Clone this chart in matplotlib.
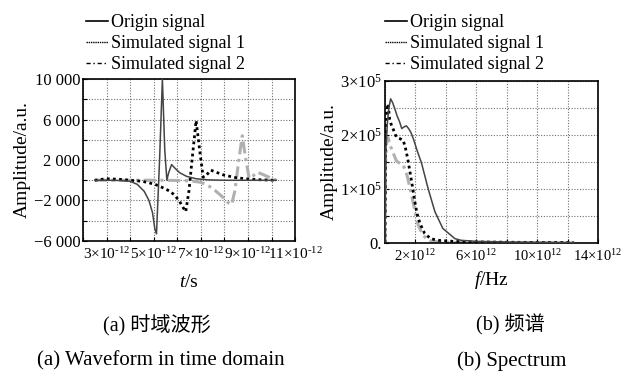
import matplotlib
matplotlib.use("Agg")
import matplotlib.pyplot as plt
from matplotlib.lines import Line2D
from matplotlib.ticker import FixedLocator, MultipleLocator

plt.rcParams['font.family'] = ['Liberation Serif', 'Noto Sans CJK SC']
plt.rcParams['mathtext.fontset'] = 'custom'
plt.rcParams['mathtext.rm'] = 'Liberation Serif'
plt.rcParams['mathtext.it'] = 'Liberation Serif:italic'
plt.rcParams['mathtext.bf'] = 'Liberation Serif:bold'
plt.rcParams['mathtext.fallback'] = 'stix'
plt.rcParams['axes.unicode_minus'] = True

# time domain (t in 1e-12 s)
t_origin = [2.5, 3.0, 3.5, 4.0, 4.3, 4.6, 4.8, 4.95, 5.05, 5.12, 5.25, 5.37, 5.47, 5.56,
            5.63, 5.76, 5.9, 6.1, 6.4, 6.8, 7.3, 8.0, 9.0, 10.2]
a_origin = [0, 0, -20, -100, -400, -1100, -2000, -3200, -4800, -5300, 2000, 10000, 3000, 0,
            700, 1550, 1200, 750, 380, 150, 40, 0, 0, 0]
t_sim1 = [2.5, 3.0, 3.5, 4.0, 4.5, 4.8, 5.1, 5.4, 5.7, 5.9, 6.1, 6.25, 6.36, 6.5, 6.65, 6.8,
          6.95, 7.1, 7.2, 7.42, 7.7, 8.0, 8.5, 9.0, 9.5, 10.2]
a_sim1 = [0, 150, 100, 0, -100, -250, -450, -750, -1100, -1500, -2100, -2700, -3100, -1000,
          2500, 5900, 3000, 300, 400, 1000, 750, 500, 250, 120, 50, 0]
t_sim2 = [2.5, 3.5, 4.5, 5.5, 6.5, 7.0, 7.3, 7.6, 7.9, 8.15, 8.31, 8.45, 8.6, 8.76, 8.9,
          9.05, 9.2, 9.4, 9.7, 10.0, 10.2]
a_sim2 = [0, 0, 0, 0, -50, -200, -500, -1000, -1600, -2200, -2400, -1000, 1800, 4400, 2200,
          200, 400, 800, 500, 200, 0]

# spectrum (f in 1e12 Hz, amplitude in 1e5)
f_origin = [0.0, 0.05, 0.15, 0.25, 0.37, 0.5, 0.65, 0.8, 0.95, 1.1, 1.25, 1.4, 1.55, 1.7,
            1.9, 2.1, 2.4, 2.84, 3.28, 3.8, 4.6, 5.0, 6.0, 8.0, 10.0, 12.4]
s_origin = [0.0, 1.7, 2.2, 2.5, 2.67, 2.6, 2.48, 2.35, 2.25, 2.12, 2.15, 2.17, 2.12, 2.05,
            1.9, 1.72, 1.48, 1.0, 0.58, 0.27, 0.08, 0.05, 0.03, 0.02, 0.015, 0.01]
f_sim1 = [0.0, 0.03, 0.1, 0.2, 0.3, 0.4, 0.55, 0.75, 1.0, 1.2, 1.35, 1.5, 1.65, 1.8, 1.95,
          2.1, 2.3, 2.6, 3.0, 3.5, 4.5, 6.0, 8.0, 10.0, 12.4]
s_sim1 = [0.0, 1.9, 2.4, 2.58, 2.3, 2.2, 2.1, 1.96, 1.93, 1.9, 1.75, 1.55, 1.3, 1.05, 0.78,
          0.55, 0.36, 0.18, 0.08, 0.05, 0.03, 0.02, 0.015, 0.01, 0.01]
f_sim2 = [0.0, 0.03, 0.1, 0.2, 0.35, 0.55, 0.75, 0.95, 1.15, 1.3, 1.45, 1.6, 1.75, 1.9,
          2.05, 2.2, 2.4, 2.7, 3.0, 3.5, 4.5, 5.6]
s_sim2 = [0.0, 1.5, 1.85, 1.95, 1.8, 1.66, 1.52, 1.48, 1.46, 1.38, 1.25, 1.07, 0.88, 0.68,
          0.46, 0.32, 0.2, 0.08, 0.04, 0.02, 0.01, 0.01]

legend_labels = ['Origin signal', 'Simulated signal 1', 'Simulated signal 2']
t_ticks = [3, 5, 7, 9, 11]
t_ticklabels = ['$%d{\\times}10^{\u201012}$' % v for v in t_ticks]
a_ticks = [10000, 6000, 2000, -2000, -6000]
a_ticklabels = ['10 000', '6 000', '2 000', '\u22122 000', '\u22126 000']
f_ticks = [2, 6, 10, 14]
f_ticklabels = ['$%d{\\times}10^{12}$' % v for v in f_ticks]
s_ticks = [0, 1, 2, 3]
s_ticklabels = ['0.', r'$1{\times}10^{5}$', r'$2{\times}10^{5}$', r'$3{\times}10^{5}$']

fig = plt.figure(figsize=(6.22, 3.73), dpi=100)
ax1 = fig.add_axes([0.1334, 0.354, 0.341, 0.434])
ax2 = fig.add_axes([0.619, 0.3485, 0.3424, 0.4343])

c_origin = '#444444'
c_sim2 = '#b0b0b0'

ax1.plot(t_origin, a_origin, color=c_origin, lw=1.1, zorder=4)
ax1.plot(t_sim1, a_sim1, color='black', lw=2.0, ls=(0, (1, 1.2)), zorder=3)
ax1.plot(t_sim2, a_sim2, color=c_sim2, lw=2.2, ls=(0, (4, 1.5, 1, 1.5)), zorder=2)
ax1.set_xlim(2, 11)
ax1.set_ylim(-6000, 10000)
ax1.xaxis.set_major_locator(FixedLocator(t_ticks))
ax1.set_xticklabels(t_ticklabels)
ax1.xaxis.set_minor_locator(MultipleLocator(1))
ax1.yaxis.set_major_locator(FixedLocator(a_ticks))
ax1.set_yticklabels(a_ticklabels)
ax1.yaxis.set_minor_locator(MultipleLocator(2000))
ax1.set_xlabel(r'$t$/s', fontsize=14, labelpad=8)
ax1.set_ylabel('Amplitude/a.u.', fontsize=14, labelpad=2)

ax2.plot(f_origin, s_origin, color=c_origin, lw=1.1, zorder=4)
ax2.plot(f_sim1, s_sim1, color='black', lw=2.0, ls=(0, (1, 1.2)), zorder=3)
ax2.plot(f_sim2, s_sim2, color=c_sim2, lw=2.2, ls=(0, (4, 1.5, 1, 1.5)), zorder=2)
ax2.set_xlim(0, 14)
ax2.set_ylim(0, 3)
ax2.xaxis.set_major_locator(FixedLocator(f_ticks))
ax2.set_xticklabels(f_ticklabels)
ax2.xaxis.set_minor_locator(MultipleLocator(2))
ax2.yaxis.set_major_locator(FixedLocator(s_ticks))
ax2.set_yticklabels(s_ticklabels)
ax2.yaxis.set_minor_locator(MultipleLocator(0.5))
ax2.set_xlabel(r'$f$/Hz', fontsize=14, labelpad=3)
ax2.set_ylabel('Amplitude/a.u.', fontsize=14, labelpad=2)

for ax in (ax1, ax2):
    ax.grid(which='both', color='#707070', ls=(0, (1, 1.5)), lw=0.8)
    ax.tick_params(which='both', direction='in', length=3, width=0.8, labelsize=12,
                   top=False, right=False)
    ax.tick_params(axis='x', pad=4, labelsize=11)
    ax.tick_params(axis='y', pad=2)
    for sp in ax.spines.values():
        sp.set_linewidth(1.2)
ax2.tick_params(axis='x', labelsize=10.5)

handles = [Line2D([], [], color='black', lw=1.2),
           Line2D([], [], color='black', lw=1.0, ls=(0, (1, 0.6))),
           Line2D([], [], color='black', lw=1.0, ls=(0, (3, 2, 1, 2)))]
for x0 in (0.138, 0.619):
    fig.legend(handles, legend_labels, loc='upper left', bbox_to_anchor=(x0, 0.962),
               frameon=False, fontsize=13, handlelength=1.2, handletextpad=0.2,
               labelspacing=0.22, borderpad=0, borderaxespad=0)

fig.text(0.253, 0.128, '(a) 时域波形', ha='center', va='center', fontsize=14.5)
fig.text(0.259, 0.032, '(a) Waveform in time domain', ha='center', va='center', fontsize=15)
fig.text(0.82, 0.128, '(b) 频谱', ha='center', va='center', fontsize=14.5)
fig.text(0.822, 0.032, '(b) Spectrum', ha='center', va='center', fontsize=15)

fig.savefig('out.png', dpi=100)
